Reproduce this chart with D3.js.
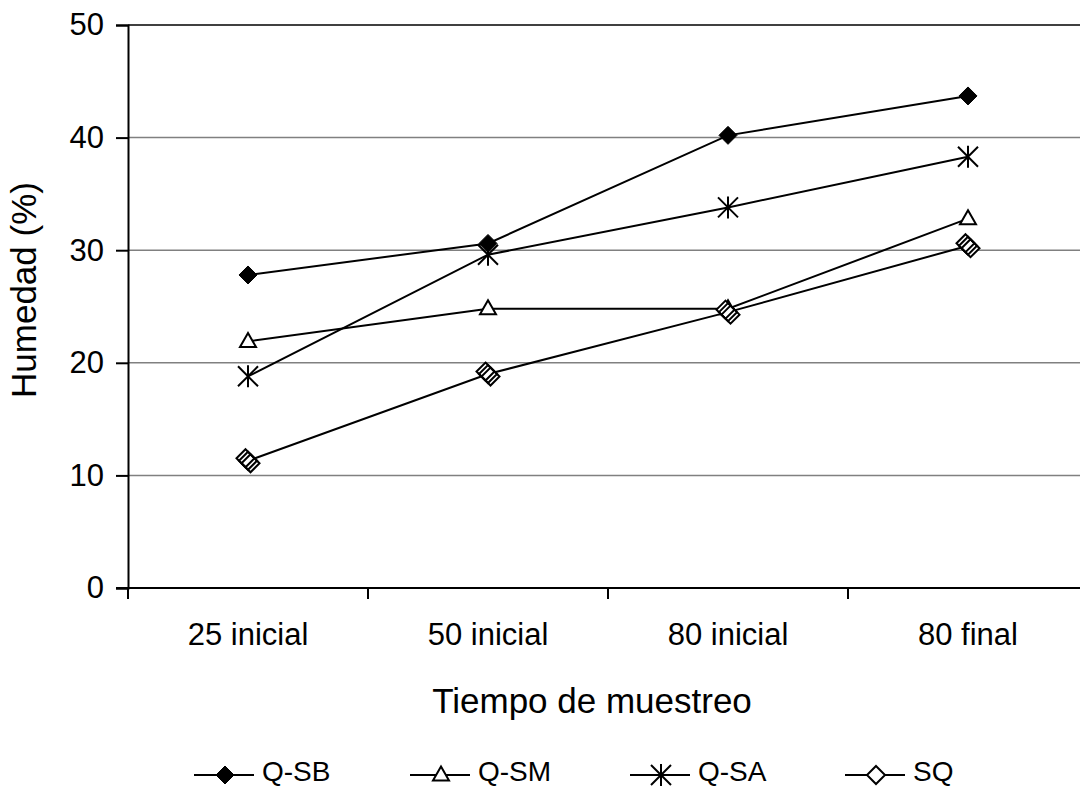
<!DOCTYPE html>
<html>
<head>
<meta charset="utf-8">
<script src="https://cdn.jsdelivr.net/npm/d3@7"></script>
<style>
  html, body { margin: 0; padding: 0; background: #fff; }
  svg { display: block; font-family: "Liberation Sans", Arial, sans-serif; }
</style>
</head>
<body>
<svg id="chart" width="1080" height="788"></svg>
<script>
// Sampling times and moisture series
const categories = ["25 inicial", "50 inicial", "80 inicial", "80 final"];
const seriesNames = ["Q-SB", "Q-SM", "Q-SA", "SQ"];
const qsb = [27.8, 30.6, 40.2, 43.7];
const qsm = [21.9, 24.8, 24.8, 32.8];
const qsa = [18.8, 29.6, 33.8, 38.3];
const sq  = [11.3, 19.0, 24.5, 30.4];
const yTicks = [0, 10, 20, 30, 40, 50];

const series = [
  { name: seriesNames[0], values: qsb, marker: "diamondFilled" },
  { name: seriesNames[1], values: qsm, marker: "triangle" },
  { name: seriesNames[2], values: qsa, marker: "star" },
  { name: seriesNames[3], values: sq,  marker: "diamondSmear" }
];

const FONT = 31, TITLE_FONT = 35, LEGEND_FONT = 28;
const svg = d3.select("#chart");
const plotLeft = 128, plotRight = 1088, plotTop = 25, plotBottom = 588;

const x = d3.scaleBand().domain(categories).range([plotLeft, plotRight]);
const y = d3.scaleLinear().domain([0, 50]).range([plotBottom, plotTop]);

// Horizontal gridlines
svg.append("g")
  .selectAll("line")
  .data(yTicks.filter(d => d > 0))
  .join("line")
  .attr("x1", plotLeft).attr("x2", 1080)
  .attr("y1", d => y(d)).attr("y2", d => y(d))
  .attr("stroke", d => d === 50 ? "#000" : "#808080")
  .attr("stroke-width", 1.5);

// Y axis
const yAxis = svg.append("g")
  .attr("transform", `translate(${plotLeft},0)`)
  .call(d3.axisLeft(y).tickValues(yTicks).tickSize(12).tickPadding(12));
yAxis.select(".domain").attr("stroke", "#000").attr("stroke-width", 2);
yAxis.selectAll(".tick line").attr("stroke", "#000").attr("stroke-width", 2);
yAxis.selectAll(".tick text").attr("font-size", FONT).attr("fill", "#000")
  .attr("font-family", "Liberation Sans, Arial, sans-serif");

// X axis with ticks between categories
const xAxisG = svg.append("g").attr("transform", `translate(0,${plotBottom})`);
xAxisG.append("line")
  .attr("x1", plotLeft - 12).attr("x2", 1080)
  .attr("y1", 0).attr("y2", 0)
  .attr("stroke", "#000").attr("stroke-width", 2);
xAxisG.selectAll("line.tick")
  .data(categories)
  .join("line")
  .attr("class", "tick")
  .attr("x1", d => x(d)).attr("x2", d => x(d))
  .attr("y1", 0).attr("y2", 11)
  .attr("stroke", "#000").attr("stroke-width", 2);
xAxisG.selectAll("text")
  .data(categories)
  .join("text")
  .attr("x", d => x(d) + x.bandwidth() / 2)
  .attr("y", 57)
  .attr("text-anchor", "middle")
  .attr("font-size", FONT)
  .text(d => d);

// Axis titles
svg.append("text")
  .attr("x", 592).attr("y", 713)
  .attr("text-anchor", "middle")
  .attr("font-size", TITLE_FONT)
  .text("Tiempo de muestreo");
svg.append("text")
  .attr("transform", "translate(36,290) rotate(-90)")
  .attr("text-anchor", "middle")
  .attr("font-size", TITLE_FONT)
  .text("Humedad (%)");

// Marker drawing
function drawMarker(g, type, cx, cy) {
  if (type === "diamondFilled") {
    const r = 9;
    g.append("path")
      .attr("d", `M${cx},${cy - r}L${cx + r},${cy}L${cx},${cy + r}L${cx - r},${cy}Z`)
      .attr("fill", "#000").attr("stroke", "#000").attr("stroke-width", 1);
  } else if (type === "triangle") {
    const w = 8, h = 14;
    g.append("path")
      .attr("d", `M${cx},${cy - h * 0.6}L${cx + w},${cy + h * 0.4}L${cx - w},${cy + h * 0.4}Z`)
      .attr("fill", "#fff").attr("stroke", "#000").attr("stroke-width", 2);
  } else if (type === "star") {
    const r = 10;
    const p = `M${cx - r},${cy - r}L${cx + r},${cy + r}M${cx - r},${cy + r}L${cx + r},${cy - r}M${cx},${cy - r - 1}L${cx},${cy + r + 1}`;
    g.append("path").attr("d", p).attr("stroke", "#000").attr("stroke-width", 2).attr("fill", "none");
  } else if (type === "diamond") {
    const r = 9;
    g.append("path")
      .attr("d", `M${cx},${cy - r}L${cx + r},${cy}L${cx},${cy + r}L${cx - r},${cy}Z`)
      .attr("fill", "#fff").attr("stroke", "#000").attr("stroke-width", 2);
  } else if (type === "diamondSmear") {
    const r = 9;
    const offs = [-2.5, 0, 2.5];
    g.append("path")
      .attr("d", `M${cx - 2.5},${cy - 2.5 - r}L${cx + 2.5 + r},${cy + 2.5}L${cx + 2.5},${cy + 2.5 + r}L${cx - 2.5 - r},${cy - 2.5}Z`)
      .attr("fill", "#fff").attr("stroke", "none");
    offs.forEach(o => {
      const ox = cx + o, oy = cy + o;
      g.append("path")
        .attr("d", `M${ox},${oy - r}L${ox + r},${oy}L${ox},${oy + r}L${ox - r},${oy}Z`)
        .attr("fill", "none").attr("stroke", "#000").attr("stroke-width", 2);
    });
  }
}

const line = d3.line()
  .x((d, i) => x(categories[i]) + x.bandwidth() / 2)
  .y(d => y(d));

const plot = svg.append("g");
series.forEach(s => {
  plot.append("path")
    .datum(s.values)
    .attr("d", line)
    .attr("fill", "none")
    .attr("stroke", "#000")
    .attr("stroke-width", 2);
});
series.forEach(s => {
  const g = plot.append("g");
  s.values.forEach((v, i) => {
    drawMarker(g, s.marker, x(categories[i]) + x.bandwidth() / 2, y(v));
  });
});

// Legend
const legendX = [194, 410, 630, 845];
const legendY = 775;
series.forEach((s, i) => {
  const g = svg.append("g");
  const lx = legendX[i];
  g.append("line")
    .attr("x1", lx).attr("x2", lx + 60)
    .attr("y1", legendY).attr("y2", legendY)
    .attr("stroke", "#000").attr("stroke-width", 2);
  drawMarker(g, s.marker === "diamondSmear" ? "diamond" : s.marker, lx + 31, legendY);
  g.append("text")
    .attr("x", lx + 68).attr("y", legendY + 6)
    .attr("font-size", LEGEND_FONT)
    .text(s.name);
});
</script>
</body>
</html>
